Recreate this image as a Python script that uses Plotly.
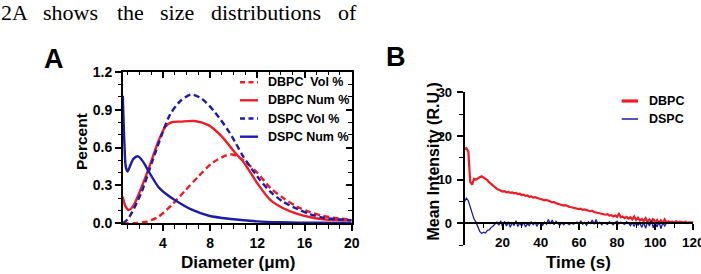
import plotly.graph_objects as go

W, H = 701, 274
def fx(px): return px / W
def fy(py): return 1 - py / H

RED = "#ee1c24"
BLUE = "#1c1caa"
FONT = "Liberation Sans, Arial, sans-serif"

# ---------------- Panel A data (size distributions) ----------------
dbpc_vol_x = [0.6, 1.5, 2.5, 3.0, 3.6, 4.75, 5.9, 7.0, 8.15, 9.3, 9.9, 10.8, 12.0, 13.1, 14.2, 15.4, 16.5, 17.6, 18.8, 20]
dbpc_vol_y = [0.0, 0.0, 0.01, 0.025, 0.05, 0.145, 0.26, 0.37, 0.475, 0.535, 0.545, 0.50, 0.40, 0.28, 0.20, 0.13, 0.087, 0.058, 0.04, 0.03]

dbpc_num_x = [0.6, 0.8, 1.1, 1.5, 1.9, 2.8, 3.6, 4.2, 4.75, 5.5, 6.7, 7.9, 9.0, 10.1, 10.8, 12.0, 13.1, 14.2, 15.4, 16.5, 17.6, 18.8, 20]
dbpc_num_y = [0.21, 0.14, 0.105, 0.14, 0.22, 0.435, 0.646, 0.765, 0.80, 0.805, 0.81, 0.775, 0.686, 0.56, 0.49, 0.317, 0.185, 0.119, 0.074, 0.048, 0.032, 0.026, 0.024]

dspc_vol_x = [0.6, 1.0, 1.4, 2.2, 3.1, 3.9, 4.6, 5.5, 6.4, 7.3, 8.4, 9.6, 10.1, 10.8, 12.0, 13.1, 14.2, 15.4, 16.5, 17.6, 18.8, 20]
dspc_vol_y = [0.0, 0.03, 0.09, 0.25, 0.49, 0.70, 0.86, 0.97, 1.02, 0.985, 0.88, 0.725, 0.646, 0.53, 0.37, 0.25, 0.17, 0.113, 0.071, 0.044, 0.032, 0.024]

dspc_num_x = [0.6, 0.75, 0.85, 1.0, 1.2, 1.5, 1.9, 2.3, 2.8, 3.6, 4.3, 5.0, 6.4, 7.9, 9.8, 12.0, 14.0, 17.0, 20]
dspc_num_y = [1.01, 0.60, 0.45, 0.41, 0.45, 0.51, 0.53, 0.49, 0.41, 0.29, 0.23, 0.185, 0.11, 0.06, 0.034, 0.015, 0.008, 0.004, 0.002]

series_a_names = ["DBPC\u00a0 Vol %", "DBPC Num %", "DSPC Vol %", "DSPC Num %"]

# ---------------- Panel B data (mean intensity vs time) ----------------
dbpc_t = list(range(0, 121))
dbpc_i = [17.0, 17.2, 16.5, 9.5, 8.9, 10.2, 10.0, 10.4, 10.6, 10.8,
          10.5, 10.3, 9.9, 9.4, 9.0, 8.7, 8.2, 7.9, 7.7, 7.5,
          7.3, 7.4, 7.1, 7.2, 7.0, 7.1, 6.9, 7.0, 6.7, 6.8,
          6.5, 6.6, 6.3, 6.4, 6.1, 6.2, 5.9, 6.0, 5.8, 5.7,
          5.6, 5.4, 5.3, 5.4, 5.1, 5.0, 4.8, 4.9, 4.6, 4.5,
          4.4, 4.3, 4.1, 4.2, 3.9, 3.8, 3.7, 3.6, 3.5, 3.4,
          3.3, 3.4, 3.1, 3.2, 3.0, 2.9, 2.8, 2.9, 2.6, 2.5,
          2.4, 2.3, 2.2, 2.1, 2.0, 2.1, 1.8, 1.9, 1.6, 1.8,
          1.5, 2.2, 1.4, 1.6, 1.2, 1.5, 1.1, 1.4, 0.9, 1.6,
          0.8, 1.3, 0.7, 1.0, 0.5, 1.2, 0.4, 0.9, 0.3, 1.1,
          0.2, 0.8, 0.0, 0.7, 0.1, 0.9, 0.2, 0.5, 0.3, 0.4,
          0.1, 0.5, 0.2, 0.4, 0.3, 0.2, 0.4, 0.1, 0.3, 0.2,
          0.3]
dspc_t = list(range(0, 107))
dspc_i = [5.0, 5.8, 5.2, 3.6, 2.0, 1.0, 0.3, -0.9, -1.8, -2.3,
          -2.0, -2.2, -1.6, -1.5, -0.9, -0.6, -0.2, 0.3, -0.4, 0.6,
          -0.8, 0.5, -0.6, 0.4, -0.9, 0.2, -0.5, 0.6, -0.7, 0.1,
          -0.6, 0.3, -0.8, -0.1, -0.5, 0.4, -0.3, 0.2, -0.6, 0.1,
          0.0, -0.4, 0.3, -0.2, 0.9, -0.1, 0.8, -0.3, 0.5, 0.0,
          -0.4, 0.2, -0.3, 0.1, 0.0, -0.3, 0.2, -0.2, 0.1, 0.3,
          -0.3, 0.6, -0.2, 0.2, -0.4, 0.4, 0.0, 0.8, -0.2, 0.9,
          -0.1, 0.3, -0.3, 0.2, 0.0, -0.2, 0.4, 0.1, -0.3, 0.2,
          0.5, -0.1, 0.3, 0.0, -0.2, 0.4, 0.1, -0.5, 0.2, -0.7,
          0.3, -0.4, 0.1, -0.9, 0.2, -1.1, 0.4, -0.6, 0.7, -1.0,
          0.3, -0.8, 0.5, -1.2, 0.2, -0.6, 0.1]
series_b_names = ["DBPC", "DSPC"]

# ---------------- Labels ----------------
a_xticks = [4, 8, 12, 16, 20]
a_yticks = [0.0, 0.3, 0.6, 0.9, 1.2]
b_xticks = [20, 40, 60, 80, 100, 120]
b_yticks = [0, 10, 20, 30]
intro_words = ["2A", "shows", "the", "size", "distributions", "of"]
intro_word_px = [0, 42, 116, 159, 210, 337]

fig = go.Figure()

dash = "6px,3.5px"
fig.add_trace(go.Scatter(x=dbpc_vol_x, y=dbpc_vol_y, name=series_a_names[0], mode="lines",
                         line=dict(color=RED, width=2.4, dash=dash, shape="spline", smoothing=0.8),
                         xaxis="x", yaxis="y", showlegend=False))
fig.add_trace(go.Scatter(x=dbpc_num_x, y=dbpc_num_y, name=series_a_names[1], mode="lines",
                         line=dict(color=RED, width=2.4, shape="spline", smoothing=0.8),
                         xaxis="x", yaxis="y", showlegend=False))
fig.add_trace(go.Scatter(x=dspc_vol_x, y=dspc_vol_y, name=series_a_names[2], mode="lines",
                         line=dict(color=BLUE, width=2.4, dash=dash, shape="spline", smoothing=0.8),
                         xaxis="x", yaxis="y", showlegend=False))
fig.add_trace(go.Scatter(x=dspc_num_x, y=dspc_num_y, name=series_a_names[3], mode="lines",
                         line=dict(color=BLUE, width=2.4, shape="spline", smoothing=0.8),
                         xaxis="x", yaxis="y", showlegend=False))
# mirror axes (inside ticks on top/right of panel A)
fig.add_trace(go.Scatter(x=[], y=[], xaxis="x3", yaxis="y3", showlegend=False, hoverinfo="skip"))

fig.add_trace(go.Scatter(x=dbpc_t, y=dbpc_i, name=series_b_names[0], mode="lines",
                         line=dict(color=RED, width=2.2), xaxis="x2", yaxis="y2", showlegend=False))
fig.add_trace(go.Scatter(x=dspc_t, y=dspc_i, name=series_b_names[1], mode="lines",
                         line=dict(color=BLUE, width=1.3), xaxis="x2", yaxis="y2", showlegend=False))

def tickfont(size):
    return dict(family=FONT, size=size, color="black", weight="bold")

common = dict(showline=True, linecolor="black", linewidth=1.6, showgrid=False, zeroline=False,
              ticks="outside", ticklen=6, tickwidth=1.5, tickcolor="black",
              automargin=False, ticklabeloverflow="allow")

ax_dom = [fx(122.8), fx(351.7)]
ay_dom = [fy(223.3), fy(71.7)]
bx_dom = [fx(464.5), fx(693.3)]
by_dom = [fy(245.3), fy(92.3)]

mirror = dict(showticklabels=False, showline=True, linecolor="black", linewidth=1.6, showgrid=False,
              zeroline=False, ticks="inside", ticklen=6, tickwidth=1.5, tickcolor="black", automargin=False)
minor_out = dict(ticks="outside", ticklen=3.5, tickwidth=1.3, tickcolor="black")
minor_in = dict(ticks="inside", ticklen=3.5, tickwidth=1.3, tickcolor="black")

fig.update_layout(
    width=W, height=H, margin=dict(l=0, r=0, t=0, b=0, autoexpand=False),
    paper_bgcolor="white", plot_bgcolor="white",
    font=dict(family=FONT, color="black"),
    xaxis=dict(domain=ax_dom, anchor="y", range=[0.6, 20], tickvals=a_xticks, tickfont=tickfont(14),
               minor=dict(dtick=1, tick0=0, **minor_out), **common),
    yaxis=dict(domain=ay_dom, anchor="x", range=[0, 1.2], tickvals=a_yticks, tickformat=".1f",
               tickfont=tickfont(14), minor=dict(dtick=0.1, tick0=0, **minor_out), **common),
    xaxis3=dict(overlaying="x", anchor="y", side="top", range=[0.6, 20], tickvals=a_xticks,
                minor=dict(dtick=1, tick0=0, **minor_in), **mirror),
    yaxis3=dict(overlaying="y", anchor="x", side="right", range=[0, 1.2], tickvals=a_yticks,
                minor=dict(dtick=0.1, tick0=0, **minor_in), **mirror),
    xaxis2=dict(domain=bx_dom, anchor="free", position=fy(223.3), range=[0, 120], tickvals=b_xticks,
                tickfont=tickfont(13.5), ticklabelstandoff=1,
                minor=dict(dtick=10, tick0=0, **minor_out), **common),
    yaxis2=dict(domain=by_dom, anchor="x2", range=[-5, 30], tickvals=b_yticks, tickfont=tickfont(13),
                ticklabelstandoff=2,
                minor=dict(dtick=5, tick0=0, **minor_out), **common),
)

ann = []
def text(px, py, s, size, xanchor="center", angle=0, family=FONT, bold=True):
    ann.append(dict(x=fx(px), y=fy(py), xref="paper", yref="paper", text=s, showarrow=False,
                    xanchor=xanchor, yanchor="middle", textangle=angle,
                    font=dict(family=family, size=size, color="black", weight="bold" if bold else "normal")))

# intro sentence words (justified text)
for w, p in zip(intro_words, intro_word_px):
    text(p - 1, 12.6, w, 22, xanchor="left", family="Liberation Serif, Times New Roman, serif", bold=False)

text(54, 59.5, "A", 27)
text(396, 56.7, "B", 27)
text(81, 142, "Percent", 15.5, angle=-90)
text(237.8, 262.5, "Diameter (\u03bcm)", 17)
text(432.5, 162, "Mean Intensity (R.U.)", 16, angle=-90)
text(578.7, 262.5, "Time (s)", 17)

# legend A
shapes = []
leg_a_rows = [82.3, 100.3, 118.5, 136.7]
leg_a_styles = [(RED, "dash"), (RED, "solid"), (BLUE, "dash"), (BLUE, "solid")]
for name, py, (col, ds) in zip(series_a_names, leg_a_rows, leg_a_styles):
    shapes.append(dict(type="line", xref="paper", yref="paper", x0=fx(240), x1=fx(258), y0=fy(py), y1=fy(py),
                       line=dict(color=col, width=2.4, dash="5px,3.5px" if ds == "dash" else "solid")))
    text(265.5, py, name, 12.5, xanchor="left")

# legend B
leg_b_rows = [101, 119]
leg_b_styles = [(RED, 3.2), (BLUE, 1.5)]
for name, py, (col, wd) in zip(series_b_names, leg_b_rows, leg_b_styles):
    shapes.append(dict(type="line", xref="paper", yref="paper", x0=fx(621.7), x1=fx(638), y0=fy(py), y1=fy(py),
                       line=dict(color=col, width=wd)))
    text(646.5, py, name, 12.5, xanchor="left")

fig.update_layout(annotations=ann, shapes=shapes)
fig.write_html("out.html")
